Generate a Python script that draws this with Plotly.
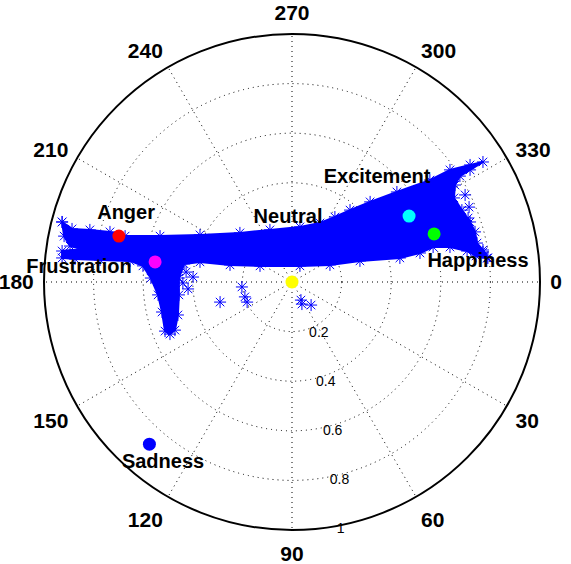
import math
import plotly.graph_objects as go

# ---- data (unit-disc coordinates: x to the right, y downward; r = 1 at the rim) ----
emotions = ["Anger", "Frustration", "Neutral", "Excitement", "Happiness", "Sadness"]
emo_x = [-0.698, -0.552, 0.0, 0.472, 0.573, -0.575]
emo_y = [-0.185, -0.081, 0.0, -0.266, -0.194, 0.654]
emo_colors = ["#ff0000", "#ff00ff", "#ffff00", "#00ffff", "#00ff00", "#0000ff"]

label_x = [-0.669, -0.859, -0.016, 0.343, 0.750, -0.520]
label_y = [-0.274, -0.056, -0.258, -0.419, -0.081, 0.730]

# outline of the dense cloud of frame-wise estimates
cloud_x = [-0.927, -0.887, -0.815, -0.734, -0.673, -0.532, -0.371, -0.210, -0.089, 0.032,
           0.113, 0.173, 0.234, 0.315, 0.423, 0.556, 0.637, 0.718, 0.770, 0.718,
           0.677, 0.657, 0.653, 0.685, 0.718, 0.738, 0.746, 0.770, 0.790, 0.742,
           0.706, 0.637, 0.569, 0.516, 0.435, 0.274, 0.153, 0.032, -0.129, -0.250,
           -0.371, -0.435, -0.456, -0.456, -0.460, -0.472, -0.492, -0.512, -0.524, -0.540,
           -0.569, -0.601, -0.653, -0.774, -0.875, -0.927, -0.927, -0.847, -0.895, -0.919]
cloud_y = [-0.242, -0.214, -0.210, -0.202, -0.185, -0.185, -0.190, -0.198, -0.210, -0.222,
           -0.238, -0.262, -0.290, -0.323, -0.363, -0.411, -0.452, -0.472, -0.484, -0.452,
           -0.427, -0.391, -0.339, -0.290, -0.242, -0.202, -0.157, -0.129, -0.097, -0.105,
           -0.125, -0.141, -0.141, -0.117, -0.097, -0.085, -0.069, -0.065, -0.065, -0.069,
           -0.081, -0.073, -0.016, 0.052, 0.133, 0.194, 0.210, 0.198, 0.121, 0.052,
           -0.016, -0.065, -0.085, -0.089, -0.093, -0.097, -0.125, -0.133, -0.145, -0.185]

# isolated estimates outside the dense cloud
stray_x = [-0.440, -0.419, -0.399, -0.427, -0.290, -0.202, -0.190, -0.181, 0.036, 0.040,
           0.077, 0.698, 0.714, 0.710, 0.770, 0.786]
stray_y = [0.004, 0.028, -0.020, -0.040, 0.081, 0.020, 0.060, 0.081, 0.073, 0.089,
           0.093, -0.351, -0.302, -0.258, -0.121, -0.097]

angle_ticks = list(range(0, 360, 30))
radial_ticks = [0.2, 0.4, 0.6, 0.8, 1.0]
radial_labels = ["0.2", "0.4", "0.6", "0.8", "1"]


def to_polar(xs, ys):
    r = [math.hypot(x, y) for x, y in zip(xs, ys)]
    t = [math.degrees(math.atan2(y, x)) % 360 for x, y in zip(xs, ys)]
    return r, t


FONT = "Arial, Liberation Sans, Helvetica, sans-serif"
BLUE = "#0000ff"
GRID_DASH = "1px,4px"
RADIAL_ANGLE = -82

fig = go.Figure()

cr, ct = to_polar(cloud_x + cloud_x[:1], cloud_y + cloud_y[:1])
fig.add_trace(go.Scatterpolar(r=cr, theta=ct, mode="lines", fill="toself",
                              fillcolor=BLUE, line=dict(color=BLUE, width=2),
                              hoverinfo="skip", showlegend=False))
fig.add_trace(go.Scatterpolar(r=cr, theta=ct, mode="markers",
                              marker=dict(symbol="asterisk-open", size=10, color=BLUE,
                                          line=dict(color=BLUE, width=1)),
                              showlegend=False))
sr, st = to_polar(stray_x, stray_y)
fig.add_trace(go.Scatterpolar(r=sr, theta=st, mode="markers",
                              marker=dict(symbol="asterisk-open", size=10, color=BLUE,
                                          line=dict(color=BLUE, width=1)),
                              showlegend=False))

er, et = to_polar(emo_x, emo_y)
fig.add_trace(go.Scatterpolar(r=er, theta=et, mode="markers",
                              marker=dict(size=13, color=emo_colors, line=dict(width=0)),
                              text=emotions, showlegend=False))

lr, lt = to_polar(label_x, label_y)
fig.add_trace(go.Scatterpolar(r=lr, theta=lt, mode="text", text=emotions,
                              textposition="middle center",
                              textfont=dict(family=FONT, size=20, color="black", weight="bold"),
                              showlegend=False))

fig.update_layout(
    width=571, height=564,
    margin=dict(l=44, r=31, t=34, b=34),
    paper_bgcolor="white",
    polar=dict(
        domain=dict(x=[0, 1], y=[0, 1]),
        bgcolor="white",
        angularaxis=dict(
            direction="clockwise", rotation=0,
            tickmode="array", tickvals=angle_ticks, ticktext=[str(a) for a in angle_ticks],
            ticks="outside", ticklen=5, tickcolor="rgba(0,0,0,0)",
            showline=True, linecolor="black", linewidth=2,
            showgrid=True, gridcolor="black", griddash=GRID_DASH, gridwidth=1,
            tickfont=dict(family=FONT, size=21, color="black", weight="bold"),
        ),
        radialaxis=dict(
            range=[0, 1], tickmode="array", tickvals=radial_ticks, ticktext=radial_labels,
            angle=RADIAL_ANGLE, side="counterclockwise", tickangle=RADIAL_ANGLE,
            showline=False, ticks="",
            showgrid=True, gridcolor="black", griddash=GRID_DASH, gridwidth=1,
            tickfont=dict(family=FONT, size=14, color="black"),
        ),
    ),
)

fig.write_html("out.html")
